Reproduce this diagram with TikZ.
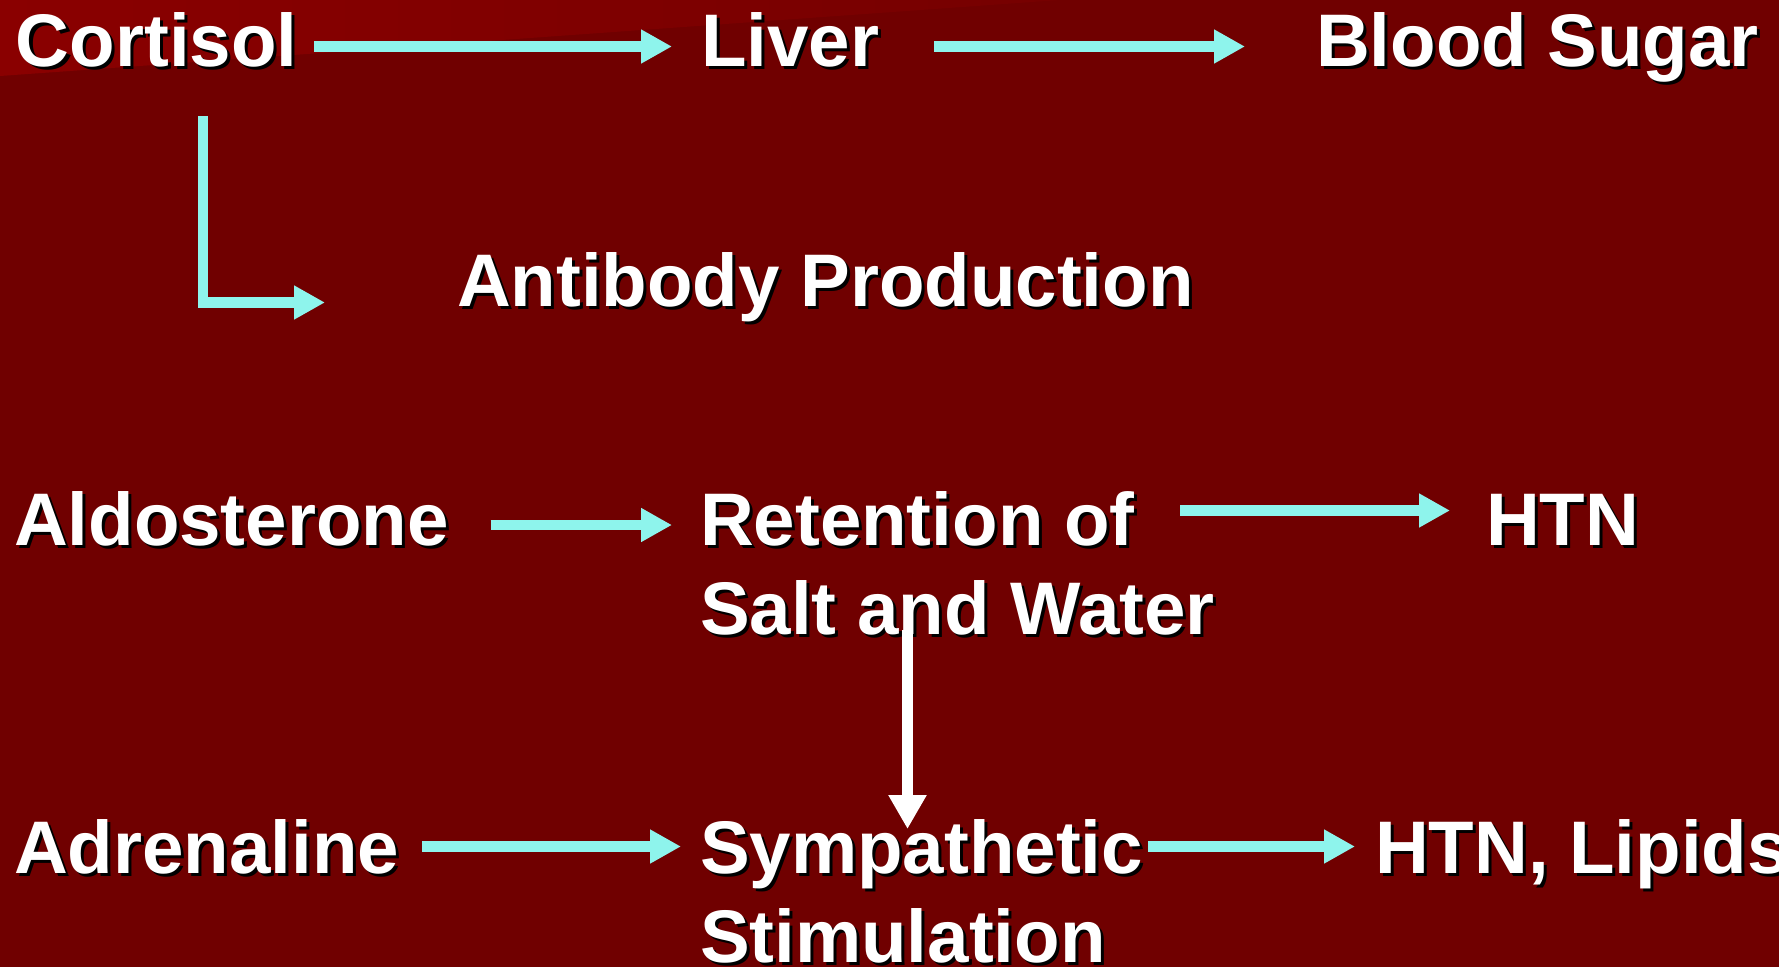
\documentclass[tikz,border=0pt]{standalone}
\usepackage{fontspec}
\setmainfont{Liberation Sans}
\usetikzlibrary{arrows.meta}
\definecolor{bgred}{RGB}{112,0,0}
\definecolor{bandred}{RGB}{138,0,0}
\definecolor{bandred2}{RGB}{118,0,0}
\definecolor{cyanarrow}{RGB}{142,244,236}
\tikzset{
  lbl/.style={inner sep=0pt, outer sep=0pt, anchor=base west, text height=53pt, text depth=0pt,
    font=\fontsize{74.5}{89}\selectfont\bfseries, text=white},
  shd/.style={lbl, text=black},
  cyarr/.style={draw=cyanarrow, line width=10.7pt, -{Triangle[length=31pt,width=32pt]}},
  wharr/.style={draw=white, line width=11.7pt, -{Triangle[length=34pt,width=36pt]}}
}
\newcommand{\shlabel}[4]{%
  \node[shd] (#1-s) at (#2+3,-#3-3) {#4};
  \node[lbl] (#1) at (#2,-#3) {#4};
}
\begin{document}
\begin{tikzpicture}[x=1pt,y=1pt]
\useasboundingbox (0,0) rectangle (1779,-967);
\fill[bgred] (0,0) rectangle (1779,-967);
\shade[left color=bandred, right color=bandred2] (0,0) -- (1060,0) -- (0,-76) -- cycle;

\shlabel{cortisol}{16}{66}{Cortisol}
\shlabel{liver}{701}{66}{Liver}
\shlabel{sugar}{1316}{66}{Blood Sugar}
\shlabel{antibody}{457}{306}{Antibody Production}
\shlabel{aldo}{14}{545}{Aldosterone}
\shlabel{ret1}{700}{545}{Retention of}
\shlabel{ret2}{700}{634}{Salt and Water}
\shlabel{htn}{1486}{545}{HTN}
\shlabel{adren}{14}{873}{Adrenaline}
\shlabel{symp}{700}{873}{Sympathetic}
\shlabel{stim}{700}{962}{Stimulation}
\shlabel{lipids}{1375}{873}{HTN, Lipids}

\draw[cyarr] ([xshift=17pt,yshift=-7pt]cortisol.east) -- ([xshift=-29pt,yshift=-7pt]liver.west);
\draw[cyarr] ([xshift=55pt,yshift=-7pt]liver.east) -- ([xshift=-71pt,yshift=-7pt]sugar.west);
\draw[cyarr, line join=miter] ([xshift=187pt,yshift=-50pt]cortisol.south west) |- ([xshift=-132pt,yshift=-23pt]antibody.west);
\draw[cyarr] ([xshift=42pt,yshift=-6.5pt]aldo.east) -- ([xshift=-28pt,yshift=-6.5pt]ret1.west);
\draw[cyarr] ([xshift=45.5pt,yshift=8pt]ret1.east) -- ([xshift=-36pt,yshift=8pt]htn.west);
\draw[wharr] ([xshift=207.5pt,yshift=4pt]ret2.south west) -- ([xshift=207.5pt,yshift=-9pt]symp.north west);
\draw[cyarr] ([xshift=23pt]adren.east) -- ([xshift=-19pt]symp.west);
\draw[cyarr] ([xshift=5pt]symp.east) -- ([xshift=-20pt]lipids.west);
\end{tikzpicture}
\end{document}
